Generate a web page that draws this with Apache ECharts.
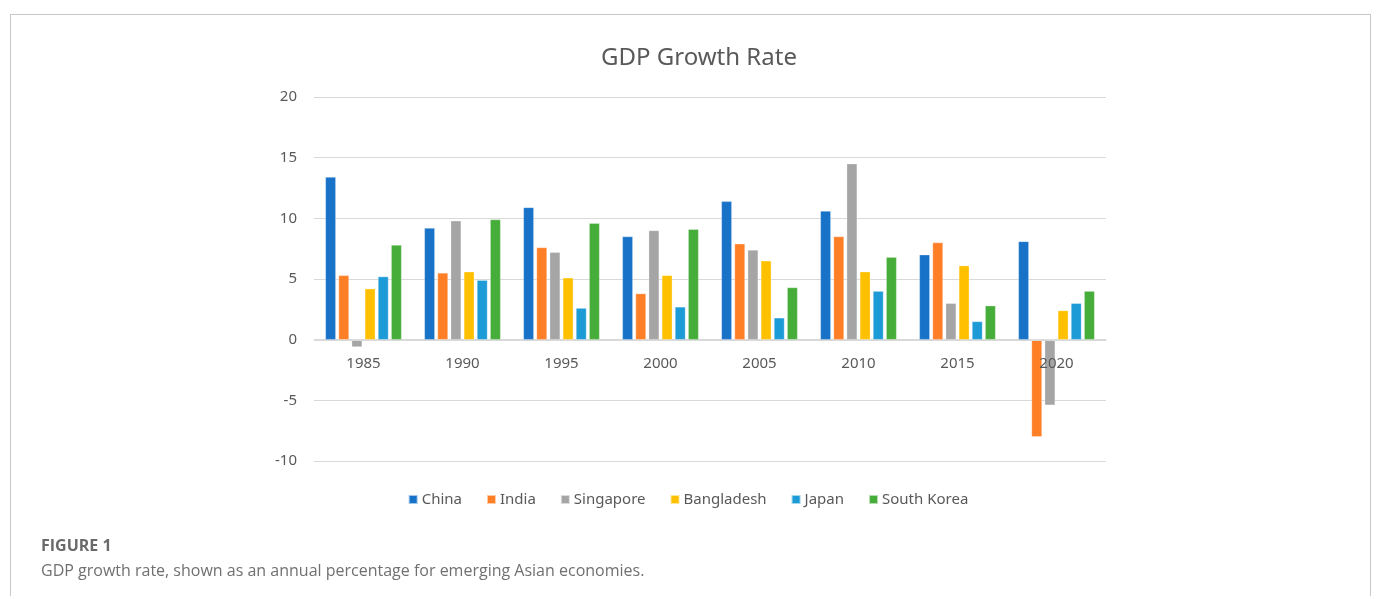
<!DOCTYPE html>
<html>
<head>
<meta charset="utf-8">
<script src="https://cdn.jsdelivr.net/npm/echarts@6/dist/echarts.min.js"></script>
<style>
html,body{margin:0;padding:0;background:#fff;}
#frame{position:absolute;left:10px;top:14px;width:1359px;height:600px;border:1px solid #c8c8c8;border-bottom:none;}
#chart{position:absolute;left:0;top:0;width:1376px;height:596px;}
#cap1{position:absolute;left:41px;top:534px;font-family:"Open Sans",sans-serif;font-weight:bold;font-size:16px;color:#6a6a6a;letter-spacing:0;}
#cap2{position:absolute;left:41px;top:559px;font-family:"Open Sans",sans-serif;font-size:16px;color:#707070;}
</style>
</head>
<body>
<div id="frame"></div>
<div id="chart"></div>
<div id="cap1">FIGURE 1</div>
<div id="cap2">GDP growth rate, shown as an annual percentage for emerging Asian economies.</div>
<script>
var years = ['1985','1990','1995','2000','2005','2010','2015','2020'];
var china      = [13.4, 9.2, 10.9, 8.5, 11.4, 10.6, 7.0, 8.1];
var india      = [5.3, 5.5, 7.6, 3.8, 7.9, 8.5, 8.0, -8.0];
var singapore  = [-0.6, 9.8, 7.2, 9.0, 7.4, 14.5, 3.0, -5.4];
var bangladesh = [4.2, 5.6, 5.1, 5.3, 6.5, 5.6, 6.1, 2.4];
var japan      = [5.2, 4.9, 2.6, 2.7, 1.8, 4.0, 1.5, 3.0];
var korea      = [7.8, 9.9, 9.6, 9.1, 4.3, 6.8, 2.8, 4.0];
var seriesNames = ['China','India','Singapore','Bangladesh','Japan','South Korea'];
var seriesData = [china, india, singapore, bangladesh, japan, korea];
var colors = ['#1873C8','#FF7F27','#A5A5A5','#FFC000','#1D9BD7','#47AD3A'];

var chart = echarts.init(document.getElementById('chart'));
var font = '"Noto Sans", "Open Sans", sans-serif';
chart.setOption({
  animation: false,
  color: colors,
  title: {
    text: 'GDP Growth Rate',
    left: 694, textAlign: 'center', top: 41,
    textStyle: {fontFamily: font, fontSize: 24, fontWeight: 'normal', color: '#595959'}
  },
  legend: {
    data: seriesNames,
    bottom: 84, left: 'center',
    itemWidth: 9, itemHeight: 9, itemGap: 24,
    icon: 'rect',
    textStyle: {fontFamily: font, fontSize: 15, color: '#595959', padding: [0,0,0,-1]}
  },
  grid: {left: 314, right: 270, top: 97, bottom: 135, containLabel: false},
  xAxis: {
    type: 'category', data: years,
    offset: -121, z: 5,
    axisLine: {onZero: false, lineStyle: {color: '#d9d9d9', width: 1}},
    axisTick: {show: false},
    axisLabel: {fontFamily: font, fontSize: 15, color: '#595959', margin: 16}
  },
  yAxis: {
    type: 'value', min: -10, max: 20, interval: 5,
    axisLine: {show: false}, axisTick: {show: false},
    axisLabel: {fontFamily: font, fontSize: 15, color: '#595959', margin: 17},
    splitLine: {lineStyle: {color: '#d9d9d9', width: 1}}
  },
  series: seriesNames.map(function(n, i){
    return {
      name: n, type: 'bar', data: seriesData[i],
      barGap: '26%', barCategoryGap: '23%',
      itemStyle: {borderColor: 'rgba(255,255,255,0.6)', borderWidth: 0.5}
    };
  })
});
</script>
</body>
</html>
